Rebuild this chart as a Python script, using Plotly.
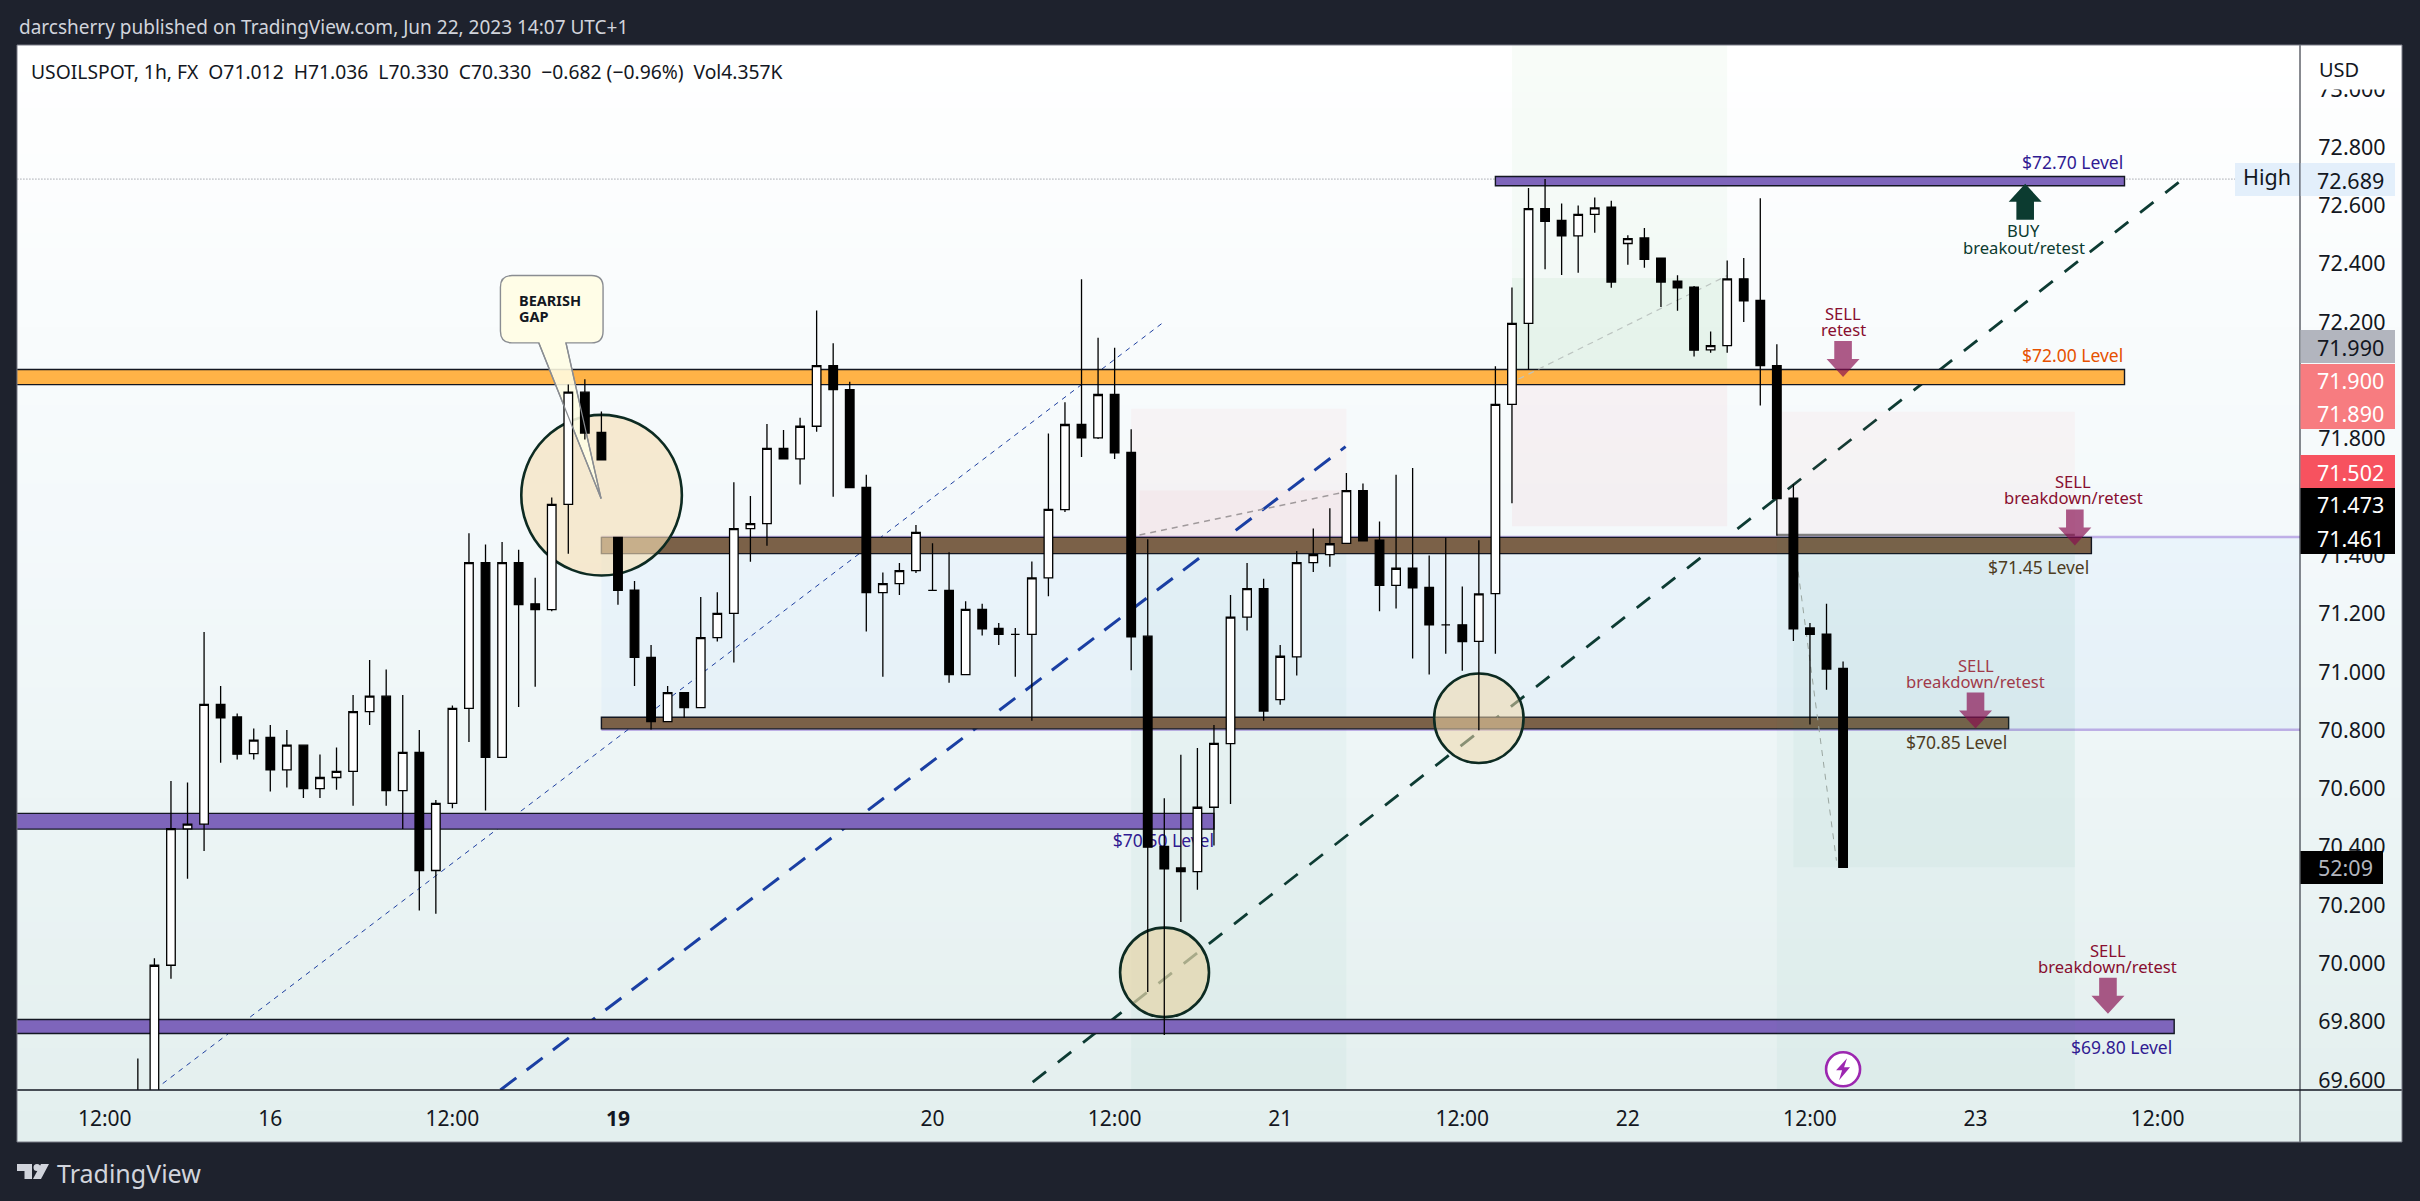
import plotly.graph_objects as go

# hourly candles
open_ = [69.45,69.55,69.994,70.462,70.478,70.889,70.846,70.720,70.776,70.664,70.749,70.600,70.638,70.659,70.864,70.917,70.593,70.724,70.319,70.549,
         70.875,71.375,70.707,71.375,71.234,71.214,71.575,71.960,71.822,71.462,71.281,71.050,70.830,70.929,70.878,71.118,71.201,71.492,71.509,71.767,
         71.731,71.843,72.051,71.969,71.633,71.272,71.303,71.348,71.280,71.280,70.991,71.215,71.150,71.129,71.129,71.323,71.557,71.849,71.803,71.952,
         71.753,71.123,70.402,70.328,70.315,70.536,70.754,71.188,71.286,70.905,71.052,71.375,71.403,71.441,71.622,71.452,71.297,71.356,71.290,71.162,
         71.162,71.105,71.269,71.918,72.196,72.590,72.549,72.496,72.570,72.595,72.470,72.489,72.420,72.341,72.320,72.105,72.120,72.349,72.275,72.051,
         71.596,71.151,71.130,71.012]
high = [69.674,70.018,70.626,70.621,71.137,70.952,70.858,70.806,70.818,70.801,70.749,70.717,70.741,70.921,71.041,71.009,70.921,70.801,70.561,70.885,
        71.476,71.437,71.446,71.419,71.323,71.599,71.986,72.004,71.894,71.462,71.312,71.093,70.952,70.929,71.257,71.274,71.651,71.604,71.851,71.830,
        71.872,72.240,72.128,71.996,71.677,71.341,71.374,71.504,71.442,71.411,71.243,71.234,71.168,71.151,71.379,71.818,71.925,72.347,72.147,72.112,
        71.833,71.455,70.567,70.716,70.739,70.818,71.264,71.374,71.320,71.093,71.415,71.492,71.562,71.683,71.647,71.516,71.677,71.700,71.400,71.461,
        71.293,71.452,72.049,72.319,72.660,72.691,72.607,72.600,72.628,72.617,72.498,72.523,72.420,72.361,72.324,72.168,72.412,72.420,72.625,72.124,
        71.644,71.168,71.234,71.036]
low = [69.40,69.50,69.948,70.291,70.386,70.689,70.700,70.700,70.590,70.604,70.568,70.568,70.596,70.541,70.818,70.541,70.461,70.182,70.171,70.533,
       70.760,70.525,70.707,70.880,70.949,71.208,71.406,71.798,71.728,71.231,70.952,70.803,70.830,70.842,70.878,71.105,71.033,71.378,71.433,71.731,
       71.643,71.824,71.601,71.633,71.139,70.984,71.264,71.340,71.280,70.963,70.991,71.125,71.093,70.984,70.833,71.260,71.549,71.738,71.799,71.731,
       71.006,69.902,69.755,70.142,70.253,70.405,70.547,71.142,70.833,70.888,70.988,71.343,71.361,71.441,71.450,71.208,71.218,71.046,70.991,71.063,
       71.004,70.800,71.063,71.579,72.038,72.382,72.362,72.370,72.507,72.318,72.397,72.387,72.252,72.239,72.082,72.095,72.095,72.201,71.914,71.467,
       71.106,70.820,70.939,70.330]
close = [69.55,69.994,70.463,70.478,70.889,70.843,70.718,70.766,70.664,70.749,70.600,70.638,70.659,70.864,70.917,70.593,70.724,70.319,70.549,70.875,
         71.375,70.707,71.375,71.231,71.214,71.575,71.960,71.820,71.728,71.280,71.050,70.830,70.929,70.878,71.118,71.201,71.492,71.509,71.767,71.731,
         71.843,72.051,71.969,71.633,71.272,71.303,71.348,71.479,71.280,70.991,71.215,71.148,71.129,71.129,71.323,71.558,71.849,71.803,71.952,71.752,
         71.121,70.399,70.325,70.315,70.536,70.755,71.188,71.286,70.866,71.054,71.375,71.403,71.440,71.622,71.450,71.297,71.356,71.289,71.162,71.162,
         71.104,71.268,71.918,72.196,72.590,72.546,72.496,72.570,72.592,72.338,72.487,72.416,72.338,72.318,72.104,72.120,72.349,72.273,72.051,71.595,
         71.148,71.129,71.010,70.330]

# axis labels
x_tick_pos = [-2, 8, 19, 29, 48, 59, 69, 80, 90, 101, 111, 122]
x_tick_text = ["12:00", "16", "12:00", "<b>19</b>", "20", "12:00", "21", "12:00", "22", "12:00", "23", "12:00"]
y_ticks = [69.6, 69.8, 70.0, 70.2, 70.4, 70.6, 70.8, 71.0, 71.2, 71.4, 71.6, 71.8, 72.0, 72.2, 72.4, 72.6, 72.8, 73.0]

# horizontal levels: price top, price bottom, first bar, last bar
level_top = [72.700, 72.038, 71.462, 70.845, 70.515, 69.808]
level_bot = [72.668, 71.986, 71.406, 70.805, 70.461, 69.760]
level_start = [82, -8, 28, 28, -8, -8]
level_end = [120, 120, 118, 113, 65, 123]
level_fill = ["#7e65bb", "#ffb347", "#7b6148", "#7b6148", "#7e65bb", "#7e65bb"]

x_range = [-7.30, 130.60]
y_range = [69.566, 73.151]

# page geometry in pixels
W, H = 2420, 1201
L, R, T, B = 17, 2300, 45, 1090
FRAME_R, FRAME_B = 2402, 1142
FONT = "Noto Sans"
DARK = "#131722"


def px(x):
    return (x - L) / (R - L)


def py(y):
    return (B - y) / (B - T)


def mix(c0, c1, t):
    return "rgb(%d,%d,%d)" % tuple(round(a + (b - a) * t) for a, b in zip(c0, c1))


shapes = []

# page background is a soft vertical gradient, painted as overlapping strips
n_strips = 70
for k in range(n_strips):
    t = k / (n_strips - 1)
    if t < 0.5:
        col = mix((255, 255, 255), (242, 248, 250), t / 0.5)
    else:
        col = mix((242, 248, 250), (227, 239, 238), (t - 0.5) / 0.5)
    y0 = T + (FRAME_B - T) * k / n_strips
    shapes.append(dict(type="rect", xref="paper", yref="paper", x0=px(L), x1=px(FRAME_R), y0=py(y0), y1=py(FRAME_B),
                       fillcolor=col, line_width=0, layer="below"))


def rect(x0, x1, y0, y1, fill, line=None, width=0):
    shapes.append(dict(type="rect", xref="x", yref="y", x0=x0, x1=x1, y0=y0, y1=y1, fillcolor=fill,
                       line=dict(color=line or "rgba(0,0,0,0)", width=width), layer="below"))


def dash_line(x0, y0, x1, y1, color, width, dash):
    shapes.append(dict(type="line", xref="x", yref="y", x0=x0, x1=x1, y0=y0, y1=y1,
                       line=dict(color=color, width=width, dash=dash), layer="below"))


# high of the visible range
dash_line(-8, 72.691, 131, 72.691, "#787b86", 1, "1px,2px")

# zone between 71.45 and 70.85
rect(28, 131, 71.463, 70.802, "rgba(33,120,243,0.04)")
dash_line(28, 71.463, 131, 71.463, "rgba(149,117,215,0.55)", 2.5, "solid")
dash_line(28, 70.802, 131, 70.802, "rgba(149,117,215,0.55)", 2.5, "solid")

# first two position tools
rect(60, 73, 71.903, 71.46, "rgba(242,54,69,0.035)")
rect(60.5, 73, 71.623, 71.46, "rgba(242,54,69,0.04)")
rect(60, 73, 71.46, 69.0, "rgba(38,150,100,0.035)")
rect(83, 96, 74.0, 72.0, "rgba(76,175,80,0.04)")
rect(83, 96, 72.352, 72.0, "rgba(76,175,80,0.06)")
rect(83, 96, 72.0, 71.50, "rgba(242,54,69,0.05)")

# trend lines
dash_line(1.5, 69.588, 62, 72.202, "#1e3fa0", 1, "5px,5px")
dash_line(21.9, 69.566, 72.95, 71.773, "#1a3fa3", 3, "20px,13px")
dash_line(54.05, 69.593, 123.7, 72.699, "#0d3b33", 2.8, "17px,15px")

# levels
for top, bot, a, b, fill in zip(level_top, level_bot, level_start, level_end, level_fill):
    rect(a, b, top, bot, fill, "#131722", 1.4)

# last position tool sits over the levels
rect(99, 117, 71.893, 71.47, "rgba(242,54,69,0.035)")
rect(99, 117, 71.47, 69.0, "rgba(38,150,100,0.035)")
rect(100, 117, 71.40, 70.33, "rgba(38,150,100,0.035)")
dash_line(99, 71.47, 117, 71.47, "#808080", 2.4, "solid")

# gray dashed path inside each tool
dash_line(60.5, 71.470, 72.95, 71.618, "#a09a9c", 1.4, "6px,5px")
dash_line(83.4, 72.005, 96, 72.360, "#bcc4c0", 1.2, "6px,5px")
dash_line(100, 71.467, 102.6, 70.353, "#9aa6a0", 1, "6px,6px")

# circles
for x0, x1, y0, y1, fill in [(23.16, 32.86, 71.882, 71.331, "rgba(245,222,180,0.62)"),
                             (59.33, 64.7, 70.123, 69.816, "rgba(228,214,170,0.72)"),
                             (78.3, 83.7, 70.995, 70.688, "rgba(238,215,170,0.55)")]:
    shapes.append(dict(type="circle", xref="x", yref="y", x0=x0, x1=x1, y0=y0, y1=y1, fillcolor=fill,
                       line=dict(color="#0d2b22", width=2.6), layer="below"))

# speech bubble with its tail
bub = "M 22.6 72.360 L 27.4 72.360 Q 28.1 72.360 28.1 72.320 L 28.1 72.170 Q 28.1 72.129 27.4 72.129 " \
      "L 25.86 72.129 L 27.98 71.595 L 24.22 72.129 L 22.6 72.129 Q 21.9 72.129 21.9 72.170 L 21.9 72.320 Q 21.9 72.360 22.6 72.360 Z"
shapes.append(dict(type="path", xref="x", yref="y", path=bub, fillcolor="rgba(255,253,228,0.88)",
                   line=dict(color="#8a8d92", width=1.4), layer="below"))
for x0, y0 in [(25.86, 72.129), (24.22, 72.129)]:
    shapes.append(dict(type="line", xref="x", yref="y", x0=x0, y0=y0, x1=27.98, y1=71.595,
                       line=dict(color="#8a8d92", width=1.2), layer="above"))


def arrow(i, tip, color, up):
    s = 1 if up else -1
    path = "M 0 0 L %g %g L %g %g L %g %g L %g %g L %g %g L %g %g Z" % (
        16.5, -18 * s, 8.8, -18 * s, 8.8, -36 * s, -8.8, -36 * s, -8.8, -18 * s, -16.5, -18 * s)
    shapes.append(dict(type="path", xref="x", yref="y", xsizemode="pixel", ysizemode="pixel",
                       xanchor=i, yanchor=tip, path=path, fillcolor=color, line_width=0, layer="above"))


SELL_ARROW = "rgba(136,14,79,0.68)"
arrow(114, 72.675, "#0c3b30", True)
arrow(103, 72.012, SELL_ARROW, False)
arrow(117, 71.434, SELL_ARROW, False)
arrow(111, 70.806, SELL_ARROW, False)
arrow(119, 69.828, SELL_ARROW, False)

# lightning badge on the last bar
shapes.append(dict(type="circle", xref="x", yref="y", xsizemode="pixel", ysizemode="pixel", xanchor=103, yanchor=69.637,
                   x0=-17, x1=17, y0=-17, y1=17, fillcolor="white", line=dict(color="#9c27b0", width=2.6), layer="above"))
shapes.append(dict(type="path", xref="x", yref="y", xsizemode="pixel", ysizemode="pixel", xanchor=103, yanchor=69.637,
                   path="M 4 11 L -7 -1 L -1 -1 L -4 -11 L 7 2 L 1 2 Z", fillcolor="#9c27b0", line_width=0, layer="above"))

# axis rules and frame
for x0, y0, x1, y1, col, w in [(R, T, R, FRAME_B, "#131722", 1), (L, B, FRAME_R, B, "#131722", 1.6)]:
    shapes.append(dict(type="line", xref="paper", yref="paper", x0=px(x0), x1=px(x1), y0=py(y0), y1=py(y1),
                       line=dict(color=col, width=w), layer="above"))
shapes.append(dict(type="rect", xref="paper", yref="paper", x0=px(L), x1=px(FRAME_R), y0=py(T), y1=py(FRAME_B),
                   line=dict(color="#787b86", width=1), layer="above"))

# price tags on the right axis, they hide the ticks behind them
tag_text = ["72.689", "71.990", "71.900", "71.890", "71.502", "71.473", "71.461", "52:09"]
tag_fill = ["#e3effb", "#b2b5be", "#f77c80", "#f77c80", "#f7525f", "#000000", "#000000", "#000000"]
tag_color = [DARK, DARK, "white", "white", "white", "white", "white", "#b2b5be"]
tag_y0 = [163, 330, 364, 396, 455, 488, 521, 851]
tag_y1 = [196, 363, 396, 429, 488, 521, 554, 884]
tag_cy = [180, 347.5, 380, 413, 472, 505, 538, 867.5]
tag_x1 = [2395, 2395, 2395, 2395, 2395, 2395, 2395, 2383]
tag_cx = [2350.5, 2350.5, 2350.5, 2350.5, 2350.5, 2350.5, 2350.5, 2345]

annotations = []


def page_text(x, y, text, size, color, anchor="left"):
    annotations.append(dict(xref="paper", yref="paper", x=px(x), y=py(y), text=text, showarrow=False,
                            xanchor=anchor, yanchor="middle", font=dict(family=FONT, size=size, color=color)))


shapes.append(dict(type="rect", xref="paper", yref="paper", x0=px(2235), x1=px(2300), y0=py(163), y1=py(196),
                   fillcolor="#e3effb", line_width=0, layer="above"))
shapes.append(dict(type="line", xref="paper", yref="paper", x0=px(2300), x1=px(2300), y0=py(163), y1=py(196),
                   line=dict(color="#131722", width=1), layer="above"))
for txt, fill, col, y0, y1, cy, x1, cx in zip(tag_text, tag_fill, tag_color, tag_y0, tag_y1, tag_cy, tag_x1, tag_cx):
    shapes.append(dict(type="rect", xref="paper", yref="paper", x0=px(2300.5), x1=px(x1), y0=py(y0), y1=py(y1),
                       fillcolor=fill, line_width=0, layer="above"))
    page_text(cx, cy, txt, 21.5, col, "center")
page_text(2267, 177, "High", 21.5, DARK, "center")

# the USD cell hides the top half of 73.000
shapes.append(dict(type="rect", xref="paper", yref="paper", x0=px(2301), x1=px(2401), y0=py(46), y1=py(89.5),
                   fillcolor="#ffffff", line_width=0, layer="above"))
page_text(2317, 69, "USD", 20, DARK)

page_text(17, 27, "darcsherry published on TradingView.com, Jun 22, 2023 14:07 UTC+1", 19, "#d1d4dc")
page_text(29, 71.6, "USOILSPOT, 1h, FX&nbsp;&nbsp;O71.012&nbsp;&nbsp;H71.036&nbsp;&nbsp;L70.330&nbsp;&nbsp;C70.330&nbsp;&nbsp;−0.682 (−0.96%)&nbsp;&nbsp;Vol4.357K", 19.3, DARK)
page_text(55, 1173, "TradingView", 25, "#d1d4dc")

# logo
logo = "M %g %g L %g %g L %g %g L %g %g L %g %g L %g %g Z" % (
    px(17), py(1164), px(32), py(1164), px(32), py(1179), px(24.5), py(1179), px(24.5), py(1171), px(17), py(1171))
logo2 = "M %g %g L %g %g L %g %g L %g %g Z" % (px(41), py(1164), px(49), py(1164), px(41), py(1179), px(33), py(1179))
for p in (logo, logo2):
    shapes.append(dict(type="path", xref="paper", yref="paper", path=p, fillcolor="#d1d4dc", line_width=0, layer="above"))
shapes.append(dict(type="circle", xref="paper", yref="paper", x0=px(33.5), x1=px(40.5), y0=py(1171), y1=py(1164),
                   fillcolor="#d1d4dc", line_width=0, layer="above"))


def chart_text(i, price, text, color, size=17.5, anchor="center"):
    annotations.append(dict(xref="x", yref="y", x=i, y=price, text=text, showarrow=False, xanchor=anchor, yanchor="middle",
                            font=dict(family=FONT, size=size, color=color)))


PURPLE_TXT = "#311b92"
BROWN_TXT = "#4e3d1f"
SELL_TXT = "#880e2f"
ARROW_SIZE = 16.6
chart_text(120, 72.750, "$72.70 Level", PURPLE_TXT, anchor="right")
chart_text(120, 72.087, "$72.00 Level", "#e65100", anchor="right")
chart_text(118, 71.360, "$71.45 Level", BROWN_TXT, anchor="right")
chart_text(113, 70.760, "$70.85 Level", BROWN_TXT, anchor="right")
chart_text(123, 69.712, "$69.80 Level", PURPLE_TXT, anchor="right")
chart_text(113.9, 72.513, "BUY", "#0c3b30", ARROW_SIZE)
chart_text(113.9, 72.456, "breakout/retest", "#0c3b30", ARROW_SIZE)
chart_text(103, 72.230, "SELL", SELL_TXT, ARROW_SIZE)
chart_text(103, 72.175, "retest", SELL_TXT, ARROW_SIZE)
chart_text(116.9, 71.652, "SELL", SELL_TXT, ARROW_SIZE)
chart_text(116.9, 71.597, "breakdown/retest", SELL_TXT, ARROW_SIZE)
chart_text(111, 71.024, "SELL", "#a03a4a", ARROW_SIZE)
chart_text(111, 70.969, "breakdown/retest", "#a03a4a", ARROW_SIZE)
chart_text(119, 70.043, "SELL", SELL_TXT, ARROW_SIZE)
chart_text(119, 69.988, "breakdown/retest", SELL_TXT, ARROW_SIZE)
chart_text(22.9, 72.276, "<b>BEARISH</b>", DARK, size=14.5, anchor="left")
chart_text(22.9, 72.221, "<b>GAP</b>", DARK, size=14.5, anchor="left")

fig = go.Figure()

# this label sits under the candles, so it lives on the base axes
fig.add_trace(go.Scatter(x=[65], y=[70.413], mode="text", text=["$70.50 Level"], textposition="middle left",
                         textfont=dict(family=FONT, size=17.5, color=PURPLE_TXT), hoverinfo="skip", showlegend=False))

fig.add_trace(go.Candlestick(x=list(range(len(open_))), open=open_, high=high, low=low, close=close, yaxis="y2",
                             increasing=dict(line=dict(color="#000000", width=1.3), fillcolor="#ffffff"),
                             decreasing=dict(line=dict(color="#000000", width=1.3), fillcolor="#000000"),
                             whiskerwidth=0, hoverinfo="skip", showlegend=False))

fig.update_layout(
    width=W, height=H, margin=dict(l=L, r=W - R, t=T, b=H - B, pad=0),
    paper_bgcolor="#1e222d", plot_bgcolor="rgba(0,0,0,0)", showlegend=False,
    boxgap=0.26, boxmode="overlay", shapes=shapes, annotations=annotations,
    font=dict(family=FONT, color=DARK),
    xaxis=dict(range=x_range, rangeslider=dict(visible=False), showgrid=False, zeroline=False, tickmode="array",
               tickvals=x_tick_pos, ticktext=x_tick_text, tickfont=dict(size=21, color=DARK), ticks="outside",
               ticklen=10, tickcolor="rgba(0,0,0,0)", showline=False),
    yaxis=dict(range=y_range, side="right", showgrid=False, zeroline=False, tickmode="array", tickvals=y_ticks,
               ticktext=["%.3f" % v for v in y_ticks], tickfont=dict(size=21.5, color=DARK), ticks="outside",
               ticklen=13, tickcolor="rgba(0,0,0,0)", showline=False),
    yaxis2=dict(range=y_range, overlaying="y", side="right", visible=False),
)

fig.write_html("out.html", config=dict(displayModeBar=False),
               post_script="document.body.style.margin='0';document.body.style.overflow='hidden';")
